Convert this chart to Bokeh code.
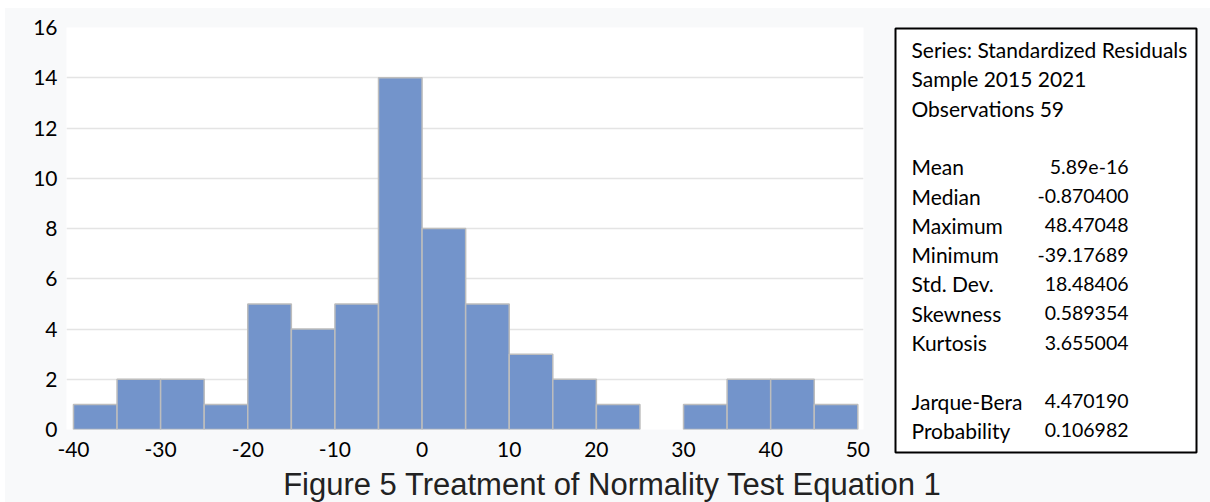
from bokeh.plotting import figure
from bokeh.models import Range1d, FixedTicker, ColumnDataSource
from bokeh.layouts import row, column
from bokeh.embed import file_html
from bokeh.resources import INLINE
from bokeh.core.properties import value

# ---- data ----
bin_left = [-40, -35, -30, -25, -20, -15, -10, -5, 0, 5, 10, 15, 20, 25, 30, 35, 40, 45]
bin_right = [-35, -30, -25, -20, -15, -10, -5, 0, 5, 10, 15, 20, 25, 30, 35, 40, 45, 50]
counts = [1, 2, 2, 1, 5, 4, 5, 14, 8, 5, 3, 2, 1, 0, 1, 2, 2, 1]
x_ticks = [-40, -30, -20, -10, 0, 10, 20, 30, 40, 50]
y_ticks = [0, 2, 4, 6, 8, 10, 12, 14, 16]
header_lines = ["Series: Standardized Residuals", "Sample 2015 2021", "Observations 59"]
stat_names = ["Mean", "Median", "Maximum", "Minimum", "Std. Dev.", "Skewness", "Kurtosis"]
stat_values = ["5.89e-16", "-0.870400", "48.47048", "-39.17689", "18.48406", "0.589354", "3.655004"]
test_names = ["Jarque-Bera", "Probability"]
test_values = ["4.470190", "0.106982"]
title_text = "Figure 5 Treatment of Normality Test Equation 1"

BG = "#F8F9FA"
FONT = "Lato"

# ---- histogram ----
p = figure(width=875, height=456, output_backend="svg", toolbar_location=None,
           x_range=Range1d(-40.8, 50.65), y_range=Range1d(0, 16),
           min_border_left=61, min_border_right=17, min_border_top=19, min_border_bottom=35)
p.background_fill_color = "white"
p.border_fill_color = BG
p.outline_line_color = None

src = ColumnDataSource(dict(
    left=[l for l, c in zip(bin_left, counts) if c > 0],
    right=[r for r, c in zip(bin_right, counts) if c > 0],
    top=[c for c in counts if c > 0],
))
p.quad(left="left", right="right", bottom=0, top="top", source=src,
       fill_color="#7394CB", line_color="#BDBDBD", line_width=1.5)

p.xgrid.visible = False
p.ygrid.ticker = FixedTicker(ticks=y_ticks[1:-1])
p.ygrid.grid_line_color = "#E4E4E4"
p.ygrid.grid_line_width = 1.5

p.xaxis.ticker = FixedTicker(ticks=x_ticks)
p.yaxis.ticker = FixedTicker(ticks=y_ticks)
p.xaxis.major_label_overrides = {t: str(t) for t in x_ticks}
p.yaxis.major_label_overrides = {t: str(t) for t in y_ticks}
for ax in (p.xaxis, p.yaxis):
    ax.axis_line_color = None
    ax.major_tick_line_color = None
    ax.minor_tick_line_color = None
    ax.major_tick_out = 0
    ax.major_tick_in = 0
    ax.minor_tick_out = 0
    ax.major_label_text_font = FONT
    ax.major_label_text_font_size = "21px"
    ax.major_label_text_color = "black"
p.yaxis.major_label_standoff = 9
p.xaxis.major_label_standoff = 12

# ---- statistics box ----
q = figure(width=330, height=456, output_backend="svg", toolbar_location=None,
           x_range=Range1d(0, 301), y_range=Range1d(424, 0),
           x_axis_location=None, y_axis_location=None,
           min_border_left=15, min_border_right=14, min_border_top=20, min_border_bottom=12)
q.background_fill_color = "white"
q.border_fill_color = BG
q.outline_line_color = "black"
q.outline_line_width = 2
q.xgrid.visible = False
q.ygrid.visible = False

step = 29.3
y0 = 21
name_rows = list(range(3)) + list(range(4, 11)) + [12, 13]
names = header_lines + stat_names + test_names
q.text(x=[16] * len(names), y=[y0 + step * r for r in name_rows], text=names,
       text_font=value(FONT), text_font_size="21px", text_color="black",
       text_baseline="middle", text_align="left")
vals = stat_values + test_values
val_rows = list(range(4, 11)) + [12, 13]
q.text(x=[233] * len(vals), y=[y0 + step * r for r in val_rows], text=vals,
       text_font=value(FONT), text_font_size="19.5px", text_color="black",
       text_baseline="middle", text_align="right")

# ---- caption ----
t = figure(width=1205, height=38, output_backend="svg", toolbar_location=None,
           x_range=Range1d(0, 1205), y_range=Range1d(0, 38),
           x_axis_location=None, y_axis_location=None, min_border=0)
t.background_fill_color = BG
t.border_fill_color = BG
t.outline_line_color = None
t.xgrid.visible = False
t.ygrid.visible = False
t.text(x=[607], y=[18], text=[title_text], text_font=value("Liberation Sans"),
       text_font_size="31px", text_color="#222222",
       text_align="center", text_baseline="alphabetic")

layout = column(row(p, column(q)), t, margin=(8, 0, 0, 5),
                styles={"background-color": BG})
open("out.html", "w").write(file_html(layout, INLINE))
